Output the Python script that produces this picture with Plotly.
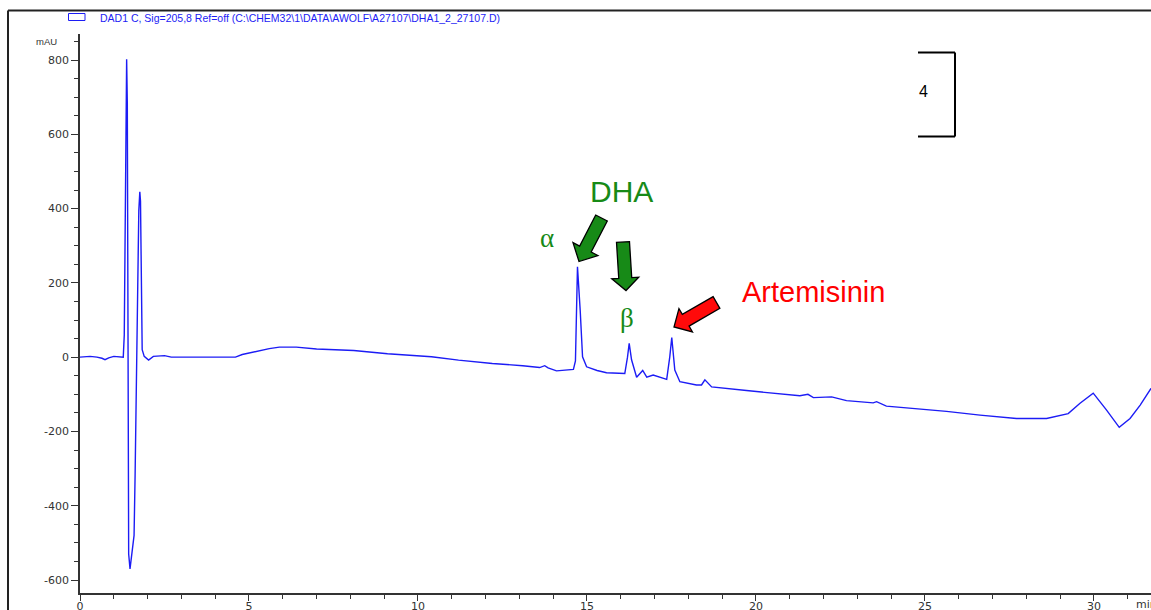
import plotly.graph_objects as go

# ---------------- data ----------------
time_min = [0.0, 0.3, 0.5, 0.65, 0.74, 0.85, 1.0, 1.28, 1.31, 1.35,
            1.38, 1.40, 1.42, 1.44, 1.48, 1.53, 1.60, 1.63, 1.68, 1.71,
            1.74, 1.77, 1.79, 1.81, 1.84, 1.90, 2.03, 2.17, 2.5, 2.7,
            4.6, 4.8, 5.2, 5.6, 5.9, 6.4, 7.0, 8.1, 9.1, 10.4,
            11.2, 12.2, 13.1, 13.6, 13.75, 13.85, 14.1, 14.6, 14.66, 14.72,
            14.8, 14.87, 14.99, 15.3, 15.58, 16.12, 16.2, 16.25, 16.32, 16.47,
            16.65, 16.77, 16.96, 17.36, 17.45, 17.51, 17.6, 17.75, 18.24, 18.39,
            18.49, 18.69, 19.72, 20.71, 21.3, 21.54, 21.7, 22.24, 22.68, 23.47,
            23.57, 23.86, 24.65, 25.64, 26.63, 27.71, 28.6, 28.9, 29.24, 29.59,
            29.98, 30.37, 30.75, 31.07, 31.37, 31.69]
absorbance_mau = [0, 2, 0, -3, -7, -2, 2, 0, 60, 590,
                  802, 685, -65, -530, -570, -535, -480, -320, -60, 200,
                  395, 445, 420, 200, 20, 2, -8, 2, 4, 0,
                  0, 7, 16, 23, 27, 27, 22, 18, 9, 1,
                  -8, -17, -23, -28, -23, -29, -37, -33, -10, 243,
                  127, 1, -26, -36, -42, -44, 0, 37, -7, -54,
                  -36, -54, -48, -60, 0, 53, -35, -66, -75, -75,
                  -61, -80, -90, -99, -104, -100, -109, -107, -117, -123,
                  -120, -132, -138, -146, -156, -165, -165, -158, -152, -124,
                  -97, -142, -189, -165, -129, -84]

y_tick_vals = [-600, -400, -200, 0, 200, 400, 600, 800]
y_tick_text = ["-600", "-400", "-200", "0", "200", "400", "600", "800"]
x_tick_vals = [0, 5, 10, 15, 20, 25, 30]
x_tick_text = ["0", "5", "10", "15", "20", "25", "30"]

legend_text = "DAD1 C, Sig=205,8 Ref=off (C:\\CHEM32\\1\\DATA\\AWOLF\\A27107\\DHA1_2_27107.D)"
y_unit = "mAU"
x_unit = "min"
peak_labels = ["α", "β"]
group_label = "DHA"
standard_label = "Artemisinin"
bracket_label = "4"

# ---------------- layout geometry ----------------
W, H = 1151, 610
PL, PR, PT, PB = 80, 1151, 34, 593
X_RANGE = [0.0, 31.69]
Y_RANGE = [-635.0, 870.0]


def px2data(px, py):
    t = X_RANGE[0] + (px - PL) / (PR - PL) * (X_RANGE[1] - X_RANGE[0])
    v = Y_RANGE[1] - (py - PT) / (PB - PT) * (Y_RANGE[1] - Y_RANGE[0])
    return t, v


def px2paper(px, py):
    return (px - PL) / (PR - PL), (PB - py) / (PB - PT)


def block_arrow(tail, tip, sw, hw, hl):
    tx, ty = tail
    px_, py_ = tip
    dx, dy = px_ - tx, py_ - ty
    L = (dx * dx + dy * dy) ** 0.5
    ux, uy = dx / L, dy / L
    nx, ny = -uy, ux
    bx, by = px_ - ux * hl, py_ - uy * hl
    pts = [(tx + nx * sw / 2, ty + ny * sw / 2),
           (bx + nx * sw / 2, by + ny * sw / 2),
           (bx + nx * hw / 2, by + ny * hw / 2),
           (px_, py_),
           (bx - nx * hw / 2, by - ny * hw / 2),
           (bx - nx * sw / 2, by - ny * sw / 2),
           (tx - nx * sw / 2, ty - ny * sw / 2)]
    d = []
    for i, (x, y) in enumerate(pts):
        xd, yd = px2data(x, y)
        d.append(("M" if i == 0 else "L") + f"{xd:.4f},{yd:.3f}")
    return " ".join(d) + " Z"


fig = go.Figure()
fig.add_trace(go.Scatter(x=time_min, y=absorbance_mau, mode="lines",
                         line=dict(color="#1c1cf5", width=1.4),
                         hoverinfo="skip", showlegend=False))

GREEN = "#178a17"
shapes = []
# frame lines
fx0, fy0 = px2paper(8, 10.5)
fx1, fy1 = px2paper(1151, 610)
shapes.append(dict(type="line", xref="paper", yref="paper", x0=fx0, y0=fy0, x1=fx1, y1=fy0,
                   line=dict(color="#222", width=2)))
shapes.append(dict(type="line", xref="paper", yref="paper", x0=fx0, y0=fy0, x1=fx0, y1=fy1,
                   line=dict(color="#222", width=2)))
# legend swatch
lx0, ly0 = px2paper(68.5, 13.5)
lx1, ly1 = px2paper(85, 20.5)
shapes.append(dict(type="rect", xref="paper", yref="paper", x0=lx0, y0=ly0, x1=lx1, y1=ly1,
                   line=dict(color="#1c1cf5", width=1), fillcolor="rgba(0,0,0,0)"))
# arrows
shapes.append(dict(type="path", xref="x", yref="y",
                   path=block_arrow((601.5, 218), (579, 261.5), 13, 28, 14),
                   fillcolor=GREEN, line=dict(color="black", width=1.3)))
shapes.append(dict(type="path", xref="x", yref="y",
                   path=block_arrow((623, 242), (626, 290.5), 13, 27, 12.5),
                   fillcolor=GREEN, line=dict(color="black", width=1.3)))
shapes.append(dict(type="path", xref="x", yref="y",
                   path=block_arrow((716.5, 302.5), (674, 327), 13.5, 27, 13.5),
                   fillcolor="#ff0a0a", line=dict(color="black", width=1.3)))
# bracket
bx0, by0 = px2data(918, 52.5)
bx1, by1 = px2data(955, 136.5)
for (a, b, c, d) in [(bx0, by0, bx1, by0), (bx1, by0, bx1, by1), (bx0, by1, bx1, by1)]:
    shapes.append(dict(type="line", xref="x", yref="y", x0=a, y0=b, x1=c, y1=d,
                       line=dict(color="black", width=2)))

annotations = []
tx, ty = px2paper(98, 17.5)
annotations.append(dict(xref="paper", yref="paper", x=tx, y=ty, xanchor="left", yanchor="middle",
                        text=legend_text, showarrow=False,
                        font=dict(family="Arial", size=10.5, color="#1c1cf5")))
mx, my = px2paper(59, 41.5)
annotations.append(dict(xref="paper", yref="paper", x=mx, y=my, xanchor="right", yanchor="middle",
                        text=y_unit, showarrow=False,
                        font=dict(family="Arial", size=9.5, color="#333")))
nx_, ny_ = px2paper(1134, 604)
annotations.append(dict(xref="paper", yref="paper", x=nx_, y=ny_, xanchor="left", yanchor="middle",
                        text=x_unit, showarrow=False,
                        font=dict(family="DejaVu Sans", size=11, color="#333")))


def text_at(px, py, txt, font):
    x, y = px2data(px, py)
    annotations.append(dict(xref="x", yref="y", x=x, y=y, xanchor="center", yanchor="middle",
                            text=txt, showarrow=False, font=font))


text_at(621, 191, group_label, dict(family="Arial", size=30, color=GREEN))
text_at(547, 238, peak_labels[0], dict(family="Liberation Serif", size=27, color=GREEN))
text_at(627, 318, peak_labels[1], dict(family="Liberation Serif", size=27, color=GREEN))
text_at(813, 292, standard_label, dict(family="Arial", size=29, color="#ff0000"))
text_at(923.5, 91, bracket_label, dict(family="Arial", size=16, color="black"))

fig.update_layout(
    width=W, height=H, autosize=False,
    margin=dict(l=PL, r=W - PR, t=PT, b=H - PB, pad=0),
    paper_bgcolor="white", plot_bgcolor="white",
    shapes=shapes, annotations=annotations,
    xaxis=dict(range=X_RANGE, showgrid=False, zeroline=False, showline=True, automargin=False,
               linecolor="#333", linewidth=1.5, ticks="outside", ticklen=6, tickcolor="#333",
               tickvals=x_tick_vals, ticktext=x_tick_text, ticklabelstandoff=-4,
               tickfont=dict(family="DejaVu Sans", size=11, color="#333"),
               minor=dict(ticks="outside", dtick=1, ticklen=4, tickcolor="#333", showgrid=False)),
    yaxis=dict(range=Y_RANGE, showgrid=False, zeroline=False, showline=True, automargin=False,
               linecolor="#333", linewidth=1.5, ticks="outside", ticklen=7, tickcolor="#333",
               tickvals=y_tick_vals, ticktext=y_tick_text,
               tickfont=dict(family="DejaVu Sans", size=11, color="#333"),
               minor=dict(ticks="outside", dtick=50, tick0=0, ticklen=4, tickcolor="#333", showgrid=False)),
)

fig.write_html("out.html", config={"displayModeBar": False},
               post_script="document.body.style.margin='0';document.body.style.overflow='hidden';")
